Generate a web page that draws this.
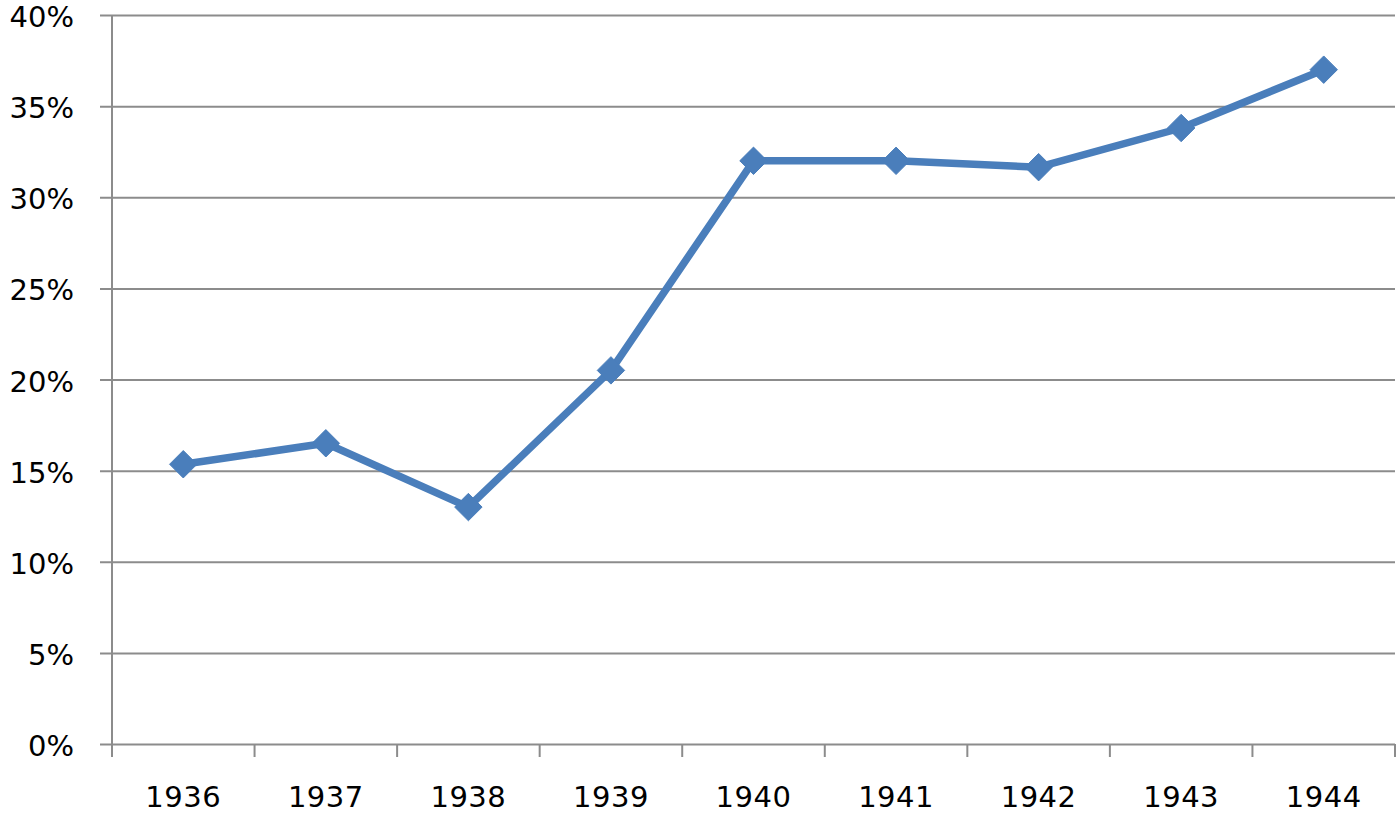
<!DOCTYPE html>
<html>
<head>
<meta charset="utf-8">
<script src="https://cdn.jsdelivr.net/npm/d3@7"></script>
<style>
  body { margin: 0; background: #fff; }
  text { font-family: "DejaVu Sans", Verdana, sans-serif; fill: #000; }
</style>
</head>
<body>
<div id="chart"></div>
<script>
const years = ["1936", "1937", "1938", "1939", "1940", "1941", "1942", "1943", "1944"];
const values = [15.35, 16.5, 13.0, 20.5, 32.0, 32.0, 31.65, 33.8, 37.0];
const yTicks = [0, 5, 10, 15, 20, 25, 30, 35, 40];

const width = 1400,
  height = 814;
const margin = { top: 15, right: 5, bottom: 70, left: 112 };

const svg = d3
  .select("#chart")
  .append("svg")
  .attr("width", width)
  .attr("height", height);

const x = d3
  .scaleBand()
  .domain(years)
  .range([margin.left, width - margin.right]);

const y = d3
  .scaleLinear()
  .domain([0, 40])
  .range([height - margin.bottom, margin.top]);

// gridlines + y axis
const yAxis = d3
  .axisLeft(y)
  .tickValues(yTicks)
  .tickSize(-(width - margin.right - margin.left))
  .tickSizeOuter(0)
  .tickPadding(38)
  .tickFormat((d) => d + "%");

const gy = svg
  .append("g")
  .attr("transform", "translate(" + margin.left + ",0)")
  .call(yAxis);
gy.select(".domain").remove();
gy.selectAll(".tick line")
  .attr("x1", -12)
  .attr("stroke", "#8c8c8c")
  .attr("stroke-width", 2);
gy.selectAll(".tick text")
  .style("font-size", "29px")
  .attr("dy", "0.4em");

// left axis line
svg
  .append("line")
  .attr("x1", margin.left)
  .attr("x2", margin.left)
  .attr("y1", y(40))
  .attr("y2", y(0) + 13)
  .attr("stroke", "#8c8c8c")
  .attr("stroke-width", 2);

// x axis ticks at category boundaries
const bounds = years.map((d) => x(d)).concat([x(years[years.length - 1]) + x.bandwidth()]);
svg
  .append("g")
  .selectAll("line")
  .data(bounds.slice(1))
  .enter()
  .append("line")
  .attr("x1", (d) => d)
  .attr("x2", (d) => d)
  .attr("y1", y(0))
  .attr("y2", y(0) + 13)
  .attr("stroke", "#8c8c8c")
  .attr("stroke-width", 2);

svg
  .append("g")
  .selectAll("text")
  .data(years)
  .enter()
  .append("text")
  .attr("x", (d) => x(d) + x.bandwidth() / 2)
  .attr("y", 807)
  .attr("text-anchor", "middle")
  .style("font-size", "29px")
  .style("letter-spacing", "0.5px")
  .text((d) => d);

// line
const line = d3
  .line()
  .x((d, i) => x(years[i]) + x.bandwidth() / 2)
  .y((d) => y(d));

svg
  .append("path")
  .datum(values)
  .attr("fill", "none")
  .attr("stroke", "#4a7ebb")
  .attr("stroke-width", 7.5)
  .attr("stroke-linejoin", "round")
  .attr("d", line);

svg
  .append("g")
  .selectAll("path")
  .data(values)
  .enter()
  .append("path")
  .attr("transform", (d, i) => "translate(" + (x(years[i]) + x.bandwidth() / 2) + "," + y(d) + ")")
  .attr("d", d3.symbol().type(d3.symbolDiamond2).size(480))
  .attr("fill", "#4a7ebb")
  .attr("stroke", "#4a7ebb")
  .attr("stroke-width", 1);
</script>
</body>
</html>
